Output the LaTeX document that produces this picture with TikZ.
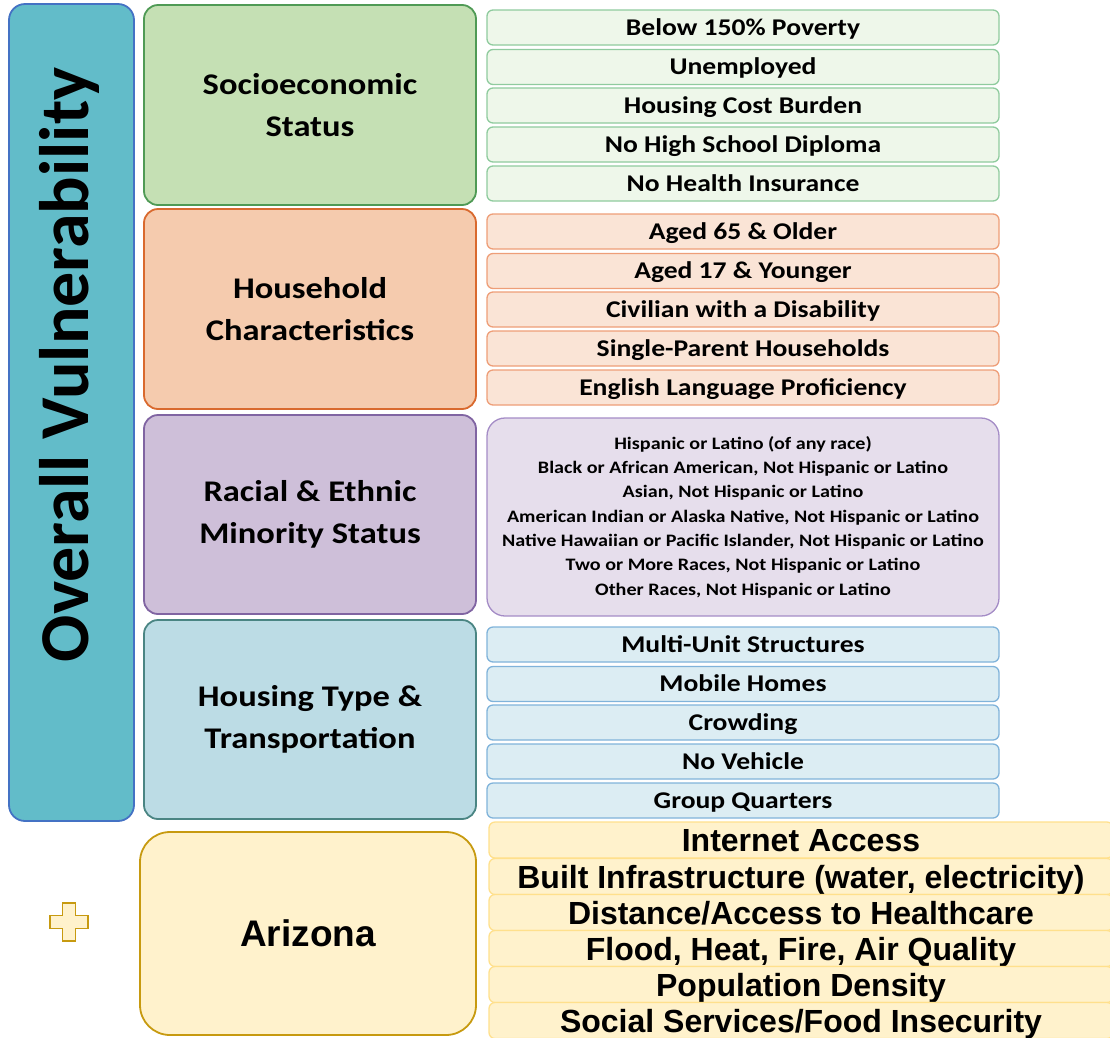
\documentclass[tikz,border=0pt]{standalone}
\usepackage{fontspec}
\newfontfamily\calst[FakeStretch=1.15]{Carlito}
\newfontfamily\calplain{Carlito}
\newfontfamily\arialf{Liberation Sans}
\definecolor{ovfill}{HTML}{62BCC9}
\definecolor{ovdraw}{HTML}{4472C4}
\definecolor{gfill}{HTML}{C5E0B4}
\definecolor{gdraw}{HTML}{4F9A55}
\definecolor{gifill}{HTML}{EEF7EA}
\definecolor{gidraw}{HTML}{8FCB9E}
\definecolor{ofill}{HTML}{F5CBAE}
\definecolor{odraw}{HTML}{D9692E}
\definecolor{oifill}{HTML}{FAE4D6}
\definecolor{oidraw}{HTML}{EE9E78}
\definecolor{pfill}{HTML}{CEBFD9}
\definecolor{pdraw}{HTML}{8064A2}
\definecolor{pifill}{HTML}{E6DEEC}
\definecolor{pidraw}{HTML}{A48CC6}
\definecolor{bfill}{HTML}{BCDCE5}
\definecolor{bdraw}{HTML}{4A8583}
\definecolor{bifill}{HTML}{DCEDF3}
\definecolor{bidraw}{HTML}{80B3DA}
\definecolor{yfill}{HTML}{FFF2CC}
\definecolor{ydraw}{HTML}{C79A10}
\definecolor{yidraw}{HTML}{FFE08C}
\tikzset{
  bigbox/.style={draw, line width=1.8pt, rounded corners=14pt, minimum width=332pt, minimum height=200pt,
     inner sep=0pt, align=center, font=\calst\bfseries\fontsize{30}{42}\selectfont},
  itembox/.style={draw, line width=1.3pt, rounded corners=6pt, minimum width=512pt, minimum height=35pt,
     inner sep=0pt, text height=15.5pt, text depth=0pt, font=\calst\bfseries\fontsize{24}{28}\selectfont},
  ybox/.style={draw=yidraw, fill=yfill, line width=1.3pt, rounded corners=6pt, minimum width=624pt, minimum height=36pt,
     inner sep=0pt, text height=23pt, text depth=0pt, font=\arialf\bfseries\fontsize{32}{36}\selectfont},
  gitem/.style={itembox, draw=gidraw, fill=gifill},
  oitem/.style={itembox, draw=oidraw, fill=oifill},
  bitem/.style={itembox, draw=bidraw, fill=bifill},
}
\begin{document}
\begin{tikzpicture}[x=1pt,y=-1pt]
\useasboundingbox (0,0) rectangle (1110,1037);
% overall
\node[draw=ovdraw, fill=ovfill, line width=1.8pt, rounded corners=16pt, minimum width=125pt, minimum height=817pt, inner sep=0pt] (ov) at (71.5,412.5) {};
\node[rotate=90, anchor=base, inner sep=0pt, font=\calplain\bfseries\fontsize{70}{80}\selectfont] (ovt) at (88,365) {Overall Vulnerability};
% categories
\node[bigbox, draw=gdraw, fill=gfill] (soc) at (310,105) {Socioeconomic\\Status};
\node[bigbox, draw=odraw, fill=ofill] (hh) at (310,309) {Household\\Characteristics};
\node[bigbox, draw=pdraw, fill=pfill, minimum height=199pt] (race) at (310,514.5) {Racial \& Ethnic\\Minority Status};
\node[bigbox, draw=bdraw, fill=bfill, minimum height=199pt] (ht) at (310,719.5) {Housing Type \&\\Transportation};
\node[draw=ydraw, fill=yfill, line width=1.8pt, rounded corners=30pt, minimum width=336pt, minimum height=203pt, inner sep=0pt,
      text height=26.5pt, text depth=0pt, font=\arialf\bfseries\fontsize{37}{42}\selectfont] (az) at (308,933.5) {Arizona};
% plus
\draw[draw=ydraw, fill=yfill, line width=1.6pt]
  (62.5,903) -- (75.5,903) -- (75.5,915.5) -- (88,915.5) -- (88,928.5) -- (75.5,928.5) -- (75.5,941) -- (62.5,941)
  -- (62.5,928.5) -- (50,928.5) -- (50,915.5) -- (62.5,915.5) -- cycle;
% green items
\node[gitem] (g1) at (743,27.5) {Below 150\% Poverty};
\node[gitem] (g2) at (743,67) {Unemployed};
\node[gitem] (g3) at (743,105.5) {Housing Cost Burden};
\node[gitem] (g4) at (743,144.5) {No High School Diploma};
\node[gitem] (g5) at (743,183.5) {No Health Insurance};
% orange items
\node[oitem] (o1) at (743,231.5) {Aged 65 \& Older};
\node[oitem] (o2) at (743,271) {Aged 17 \& Younger};
\node[oitem] (o3) at (743,309.5) {Civilian with a Disability};
\node[oitem] (o4) at (743,348.5) {Single-Parent Households};
\node[oitem] (o5) at (743,387.5) {English Language Proficiency};
% purple
\node[draw=pidraw, fill=pifill, line width=1.3pt, rounded corners=18pt, minimum width=512pt, minimum height=198pt, inner sep=0pt,
      align=center, font=\calst\bfseries\fontsize{17.5}{24.3}\selectfont] (p1) at (743,517)
  {Hispanic or Latino (of any race)\\Black or African American, Not Hispanic or Latino\\Asian, Not Hispanic or Latino\\American Indian or Alaska Native, Not Hispanic or Latino\\Native Hawaiian or Pacific Islander, Not Hispanic or Latino\\Two or More Races, Not Hispanic or Latino\\Other Races, Not Hispanic or Latino};
% blue items
\node[bitem] (b1) at (743,644.5) {Multi-Unit Structures};
\node[bitem] (b2) at (743,684) {Mobile Homes};
\node[bitem] (b3) at (743,722.5) {Crowding};
\node[bitem] (b4) at (743,761.5) {No Vehicle};
\node[bitem] (b5) at (743,800.5) {Group Quarters};
% yellow items
\node[ybox] (y1) at (801,840) {Internet Access};
\node[ybox] (y2) at (801,876.5) {Built Infrastructure (water, electricity)};
\node[ybox] (y3) at (801,912.5) {Distance/Access to Healthcare};
\node[ybox] (y4) at (801,948.5) {Flood, Heat, Fire, Air Quality};
\node[ybox] (y5) at (801,984.5) {Population Density};
\node[ybox] (y6) at (801,1020.5) {Social Services/Food Insecurity};
\end{tikzpicture}
\end{document}
